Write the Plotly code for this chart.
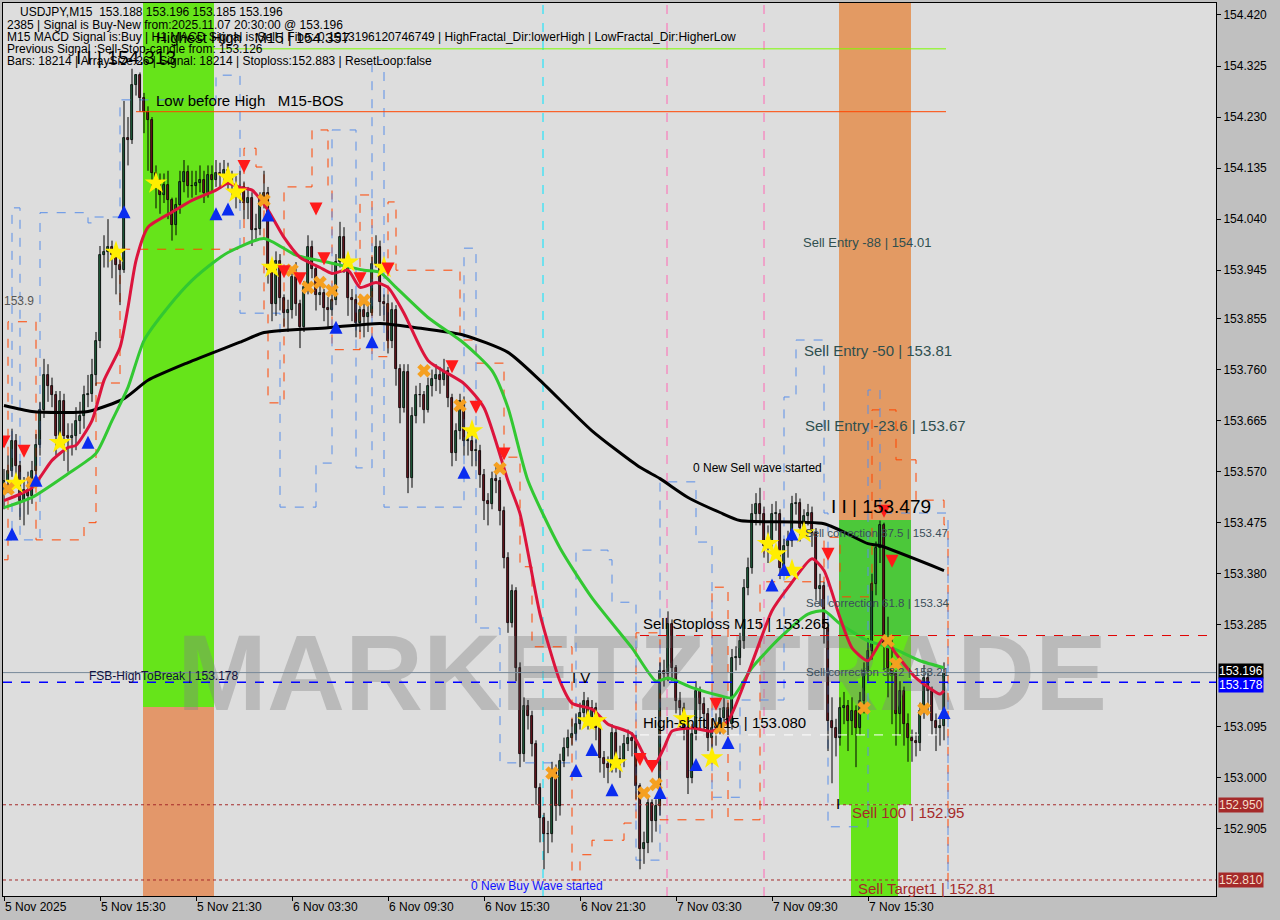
import pandas as pd
import plotly.graph_objects as go

# ---------------- data ----------------
START = pd.Timestamp("2025-11-05 09:30")
STEP = pd.Timedelta(minutes=15)

first_open = 153.540
close = [
    153.553, 153.572, 153.628, 153.581, 153.516, 153.535, 153.525, 153.572, 153.619, 153.684,
    153.749, 153.730, 153.712, 153.637, 153.702, 153.637, 153.633, 153.637, 153.665, 153.674,
    153.712, 153.715, 153.749, 153.814, 153.973, 153.978, 153.988, 153.973, 153.954, 153.945,
    154.191, 154.187, 154.290, 154.308, 154.265, 154.239, 154.224, 154.126, 154.112, 154.085,
    154.103, 154.075, 154.029, 154.066, 154.109, 154.127, 154.101, 154.101, 154.107, 154.112,
    154.088, 154.122, 154.112, 154.126, 154.122, 154.131, 154.116, 154.103, 154.094, 154.099,
    154.070, 154.079, 154.019, 154.021, 154.079, 154.088, 153.945, 153.883, 153.963, 153.893,
    153.866, 153.870, 153.932, 153.883, 153.840, 153.913, 153.988, 153.948, 153.898, 153.902,
    153.874, 153.870, 153.889, 153.960, 154.006, 153.963, 153.894, 153.889, 153.846, 153.870,
    153.857, 153.866, 153.957, 153.988, 153.885, 153.883, 153.814, 153.870, 153.762, 153.688,
    153.755, 153.559, 153.674, 153.712, 153.712, 153.684, 153.730, 153.743, 153.749, 153.740,
    153.758, 153.708, 153.605, 153.646, 153.702, 153.628, 153.628, 153.609, 153.609, 153.563,
    153.516, 153.510, 153.557, 153.553, 153.497, 153.410, 153.289, 153.348, 153.205, 153.044,
    153.134, 153.115, 153.063, 152.981, 152.925, 152.895, 152.895, 153.013, 152.948, 153.031,
    153.056, 153.074, 153.082, 153.100, 153.121, 153.143, 153.112, 153.130, 153.093, 153.037,
    153.026, 153.018, 153.084, 153.035, 153.031, 153.063, 153.074, 153.069, 152.985, 152.867,
    152.879, 152.953, 152.920, 152.948, 153.199, 153.194, 153.287, 153.205, 153.143, 153.130,
    153.093, 152.999, 153.082, 153.162, 153.138, 153.119, 153.074, 153.093, 153.100, 153.112,
    153.130, 153.100, 153.223, 153.223, 153.255, 153.354, 153.391, 153.492, 153.510, 153.492,
    153.432, 153.441, 153.492, 153.492, 153.391, 153.432, 153.441, 153.510, 153.512, 153.466,
    153.488, 153.494, 153.455, 153.352, 153.358, 153.279, 153.106, 153.093, 153.074, 153.130,
    153.134, 153.106, 153.125, 153.093, 153.143, 153.199, 153.236, 153.361, 153.427, 153.470,
    153.249, 153.205, 153.194, 153.119, 153.162, 153.100, 153.074, 153.069, 153.065, 153.125,
    153.186, 153.162, 153.106, 153.093, 153.097, 153.196,
]
high = [
    153.575, 153.600, 153.650, 153.640, 153.590, 153.560, 153.570, 153.590, 153.640, 153.700,
    153.780, 153.770, 153.745, 153.720, 153.720, 153.715, 153.660, 153.660, 153.690, 153.700,
    153.730, 153.750, 153.780, 153.830, 153.990, 154.010, 154.040, 154.000, 153.985, 153.970,
    154.260, 154.230, 154.320, 154.310, 154.313, 154.275, 154.250, 154.230, 154.140, 154.125,
    154.125, 154.130, 154.080, 154.080, 154.130, 154.150, 154.140, 154.130, 154.130, 154.140,
    154.130, 154.140, 154.140, 154.150, 154.145, 154.150, 154.145, 154.130, 154.120, 154.130,
    154.110, 154.100, 154.090, 154.050, 154.090, 154.130, 154.100, 153.960, 153.980, 153.975,
    153.900, 153.890, 153.950, 153.960, 153.890, 153.925, 154.010, 154.000, 153.955, 153.925,
    153.910, 153.895, 153.900, 153.975, 154.035, 154.025, 153.975, 153.910, 153.900, 153.880,
    153.885, 153.880, 153.970, 154.010, 154.000, 153.900, 153.900, 153.885, 153.880, 153.770,
    153.770, 153.770, 153.690, 153.730, 153.735, 153.720, 153.745, 153.760, 153.770, 153.765,
    153.780, 153.765, 153.715, 153.660, 153.715, 153.710, 153.650, 153.640, 153.630, 153.620,
    153.575, 153.530, 153.570, 153.580, 153.560, 153.505, 153.420, 153.360, 153.355, 153.215,
    153.150, 153.145, 153.125, 153.070, 152.990, 152.935, 152.920, 153.030, 153.025, 153.045,
    153.075, 153.090, 153.110, 153.120, 153.140, 153.160, 153.150, 153.145, 153.140, 153.100,
    153.050, 153.040, 153.100, 153.095, 153.060, 153.080, 153.090, 153.085, 153.080, 152.990,
    152.900, 152.965, 152.960, 152.960, 153.215, 153.220, 153.310, 153.295, 153.210, 153.160,
    153.140, 153.100, 153.100, 153.180, 153.170, 153.150, 153.130, 153.110, 153.120, 153.130,
    153.150, 153.140, 153.240, 153.245, 153.270, 153.370, 153.410, 153.510, 153.530, 153.540,
    153.505, 153.470, 153.510, 153.515, 153.500, 153.445, 153.460, 153.525, 153.530, 153.520,
    153.500, 153.510, 153.505, 153.465, 153.380, 153.365, 153.290, 153.150, 153.110, 153.150,
    153.160, 153.145, 153.150, 153.135, 153.160, 153.215, 153.260, 153.380, 153.440, 153.479,
    153.475, 153.300, 153.260, 153.200, 153.180, 153.170, 153.120, 153.090, 153.085, 153.140,
    153.210, 153.200, 153.170, 153.120, 153.110, 153.215,
]
low = [
    153.500, 153.530, 153.560, 153.560, 153.480, 153.470, 153.490, 153.510, 153.560, 153.600,
    153.670, 153.700, 153.690, 153.600, 153.620, 153.590, 153.570, 153.600, 153.610, 153.640,
    153.650, 153.690, 153.700, 153.730, 153.800, 153.950, 153.950, 153.930, 153.900, 153.880,
    153.940, 154.140, 154.180, 154.270, 154.240, 154.200, 154.130, 154.100, 154.060, 154.050,
    154.070, 154.040, 154.000, 154.010, 154.050, 154.090, 154.080, 154.080, 154.085, 154.090,
    154.070, 154.080, 154.090, 154.100, 154.100, 154.105, 154.095, 154.080, 154.060, 154.070,
    154.040, 154.040, 153.990, 154.000, 154.010, 154.060, 153.920, 153.850, 153.860, 153.870,
    153.840, 153.830, 153.855, 153.860, 153.800, 153.830, 153.900, 153.930, 153.870, 153.880,
    153.850, 153.840, 153.860, 153.880, 153.950, 153.940, 153.860, 153.850, 153.820, 153.830,
    153.820, 153.830, 153.860, 153.950, 153.860, 153.850, 153.790, 153.800, 153.730, 153.660,
    153.680, 153.530, 153.540, 153.660, 153.690, 153.660, 153.680, 153.710, 153.720, 153.715,
    153.730, 153.690, 153.580, 153.590, 153.630, 153.600, 153.600, 153.580, 153.580, 153.540,
    153.480, 153.470, 153.500, 153.530, 153.470, 153.390, 153.270, 153.280, 153.180, 153.020,
    153.030, 153.090, 153.040, 152.950, 152.880, 152.830, 152.860, 152.880, 152.920, 152.930,
    153.020, 153.040, 153.060, 153.070, 153.090, 153.110, 153.090, 153.100, 153.070, 153.010,
    153.000, 152.990, 153.010, 153.010, 153.000, 153.020, 153.050, 153.040, 152.960, 152.830,
    152.840, 152.860, 152.880, 152.900, 152.930, 153.170, 153.180, 153.180, 153.120, 153.100,
    153.070, 152.970, 152.990, 153.070, 153.110, 153.090, 153.050, 153.050, 153.060, 153.080,
    153.100, 153.080, 153.090, 153.200, 153.210, 153.240, 153.340, 153.380, 153.470, 153.470,
    153.410, 153.400, 153.430, 153.460, 153.370, 153.380, 153.410, 153.430, 153.490, 153.440,
    153.450, 153.470, 153.430, 153.330, 153.320, 153.250, 153.050, 152.990, 153.040, 153.060,
    153.100, 153.050, 153.080, 153.020, 153.080, 153.120, 153.180, 153.220, 153.340, 153.400,
    153.200, 153.150, 153.100, 153.060, 153.080, 153.060, 153.030, 153.030, 153.040, 153.050,
    153.110, 153.120, 153.080, 153.050, 153.060, 153.070,
]

# moving averages (bar index, price)
ma_black_idx = [0, 7, 21, 30, 36, 46, 59, 65, 81, 94, 103, 115, 126, 134, 147, 159, 164, 171, 179, 184, 205, 216, 219, 235]
ma_black_val = [153.693, 153.682, 153.682, 153.706, 153.740, 153.773, 153.811, 153.829, 153.838, 153.846, 153.838,
                153.824, 153.792, 153.740, 153.646, 153.578, 153.557, 153.522, 153.494, 153.479, 153.473, 153.436,
                153.432, 153.386]
ma_red_idx = [0, 7, 12, 16, 18, 22, 25, 29, 31, 33, 36, 42, 47, 53, 56, 59, 62, 66, 70, 74, 79, 82, 86, 89, 93, 96,
              100, 106, 115, 120, 126, 129, 134, 139, 142, 147, 151, 157, 162, 165, 167, 172, 177, 181, 186, 192,
              196, 202, 205, 209, 212, 216, 220, 223, 228, 234, 235]
ma_red_val = [153.516, 153.540, 153.591, 153.615, 153.619, 153.665, 153.740, 153.801, 153.876, 153.963, 154.025,
              154.053, 154.075, 154.094, 154.107, 154.099, 154.094, 154.057, 154.006, 153.969, 153.950, 153.939,
              153.945, 153.913, 153.922, 153.913, 153.865, 153.777, 153.734, 153.689, 153.553, 153.492, 153.305,
              153.180, 153.139, 153.128, 153.100, 153.082, 153.018, 153.056, 153.087, 153.093, 153.087, 153.106,
              153.194, 153.311, 153.354, 153.408, 153.386, 153.298, 153.242, 153.218, 153.261, 153.231, 153.186,
              153.156, 153.162]
ma_green_idx = [0, 7, 16, 23, 27, 31, 35, 41, 47, 53, 56, 65, 73, 82, 90, 94, 98, 106, 115, 122, 126, 131, 139, 147,
                157, 163, 166, 172, 179, 182, 187, 194, 201, 205, 209, 216, 222, 229, 235]
ma_green_val = [153.503, 153.522, 153.566, 153.604, 153.665, 153.727, 153.814, 153.876, 153.926, 153.963, 153.978,
                154.004, 153.973, 153.958, 153.945, 153.941, 153.913, 153.857, 153.809, 153.758, 153.689, 153.553,
                153.428, 153.335, 153.242, 153.180, 153.186, 153.168, 153.153, 153.149, 153.205, 153.261, 153.305,
                153.311, 153.287, 153.255, 153.242, 153.218, 153.205]

# signal markers (bar index, price)
buy_arrow_idx = [2, 8, 21, 30, 53, 56, 66, 83, 92, 115, 143, 147, 152, 164, 173, 181, 192, 195, 197, 235]
buy_arrow_val = [153.466, 153.566, 153.637, 154.066, 154.062, 154.071, 154.060, 153.851, 153.824, 153.581, 153.026,
                 153.065, 152.990, 152.985, 153.037, 153.078, 153.371, 153.400, 153.466, 153.134]
sell_arrow_idx = [0, 5, 60, 78, 70, 74, 80, 89, 96, 112, 118, 125, 159, 162, 178, 206, 220, 222]
sell_arrow_val = [153.613, 153.596, 154.126, 154.047, 153.930, 153.917, 153.954, 153.917, 153.935, 153.753, 153.678,
                  153.591, 153.022, 153.009, 153.125, 153.404, 153.484, 153.391]
star_idx = [3, 14, 28, 38, 56, 58, 67, 86, 95, 117, 146, 148, 153, 170, 177, 191, 193, 197, 200]
star_val = [153.548, 153.624, 153.978, 154.107, 154.118, 154.090, 153.950, 153.960, 153.950, 153.646, 153.106,
            153.106, 153.028, 153.110, 153.037, 153.436, 153.417, 153.386, 153.456]
cross_idx = [1, 7, 65, 72, 76, 79, 82, 90, 105, 114, 124, 137, 160, 163, 179, 215, 221, 223, 230]
cross_val = [153.538, 153.550, 154.075, 153.945, 153.913, 153.922, 153.907, 153.889, 153.758, 153.693, 153.576,
             153.009, 152.972, 152.988, 153.093, 153.130, 153.255, 153.212, 153.128]

# dashed step channels (bar index, price)
orange_step_idx = [0, 1, 8, 20, 23, 29, 60, 63, 65, 66, 70, 77, 81, 82, 89, 92, 96, 98, 114, 118, 125, 129, 132,
                   142, 144, 147, 155, 158, 164, 177, 181, 189, 205, 209, 217, 223, 228, 235, 236]
orange_step_val = [153.406, 153.849, 153.443, 153.475, 153.735, 153.984, 154.172, 154.137, 153.865, 153.698, 154.100,
                   154.206, 154.100, 153.797, 154.085, 153.784, 154.072, 153.945, 153.815, 153.772, 153.597, 153.393,
                   153.244, 152.810, 152.857, 152.884, 152.916, 153.270, 152.922, 153.355, 152.922, 153.365, 153.448,
                   153.337, 153.685, 153.592, 153.517, 153.471, 152.791]
blue_step_idx = [0, 2, 4, 9, 21, 22, 29, 53, 59, 69, 78, 82, 88, 92, 95, 115, 118, 124, 143, 151, 152, 158, 164, 173,
                 177, 184, 195, 198, 205, 206, 216, 219, 236]
blue_step_val = [153.443, 154.061, 153.443, 154.052, 154.033, 154.044, 154.262, 154.308, 153.865, 153.504, 153.586,
                 154.206, 153.577, 154.336, 153.504, 153.986, 153.279, 153.028, 153.424, 153.406, 153.327, 152.847,
                 153.551, 153.439, 152.964, 153.145, 153.709, 153.815, 153.493, 152.909, 153.722, 153.493, 152.791]

# x-axis time labels
tick_idx = [0, 24, 48, 72, 96, 120, 144, 168, 192, 216]
tick_text = ["5 Nov 2025", "5 Nov 15:30", "5 Nov 21:30", "6 Nov 03:30", "6 Nov 09:30", "6 Nov 15:30",
             "6 Nov 21:30", "7 Nov 03:30", "7 Nov 09:30", "7 Nov 15:30"]
ytick_vals = [154.420, 154.325, 154.230, 154.135, 154.040, 153.945, 153.855, 153.760, 153.665, 153.570,
              153.475, 153.380, 153.285, 153.095, 153.000, 152.905]

# ---------------- build ----------------
def T(i):
    return START + STEP * i

YMIN, YMAX = 152.7802, 154.4423
XMIN, XMAX = T(-0.25), T(303)

n = len(close)
times = [T(i) for i in range(n)]
opens = [first_open] + close[:-1]

fig = go.Figure()

# watermark text (behind everything)
fig.add_trace(go.Scatter(x=[T(159.5)], y=[153.177], mode="text", text=["MARKETZITRADE"],
                         textfont=dict(size=108, color="rgba(130,130,130,0.38)", weight="bold",
                                       family="Liberation Sans, Arial, sans-serif"),
                         hoverinfo="skip"))

# step channels
fig.add_trace(go.Scatter(x=[T(i) for i in orange_step_idx], y=orange_step_val, mode="lines",
                         line=dict(color="#ff4500", width=1, dash="dash", shape="hv"), hoverinfo="skip"))
fig.add_trace(go.Scatter(x=[T(i) for i in blue_step_idx], y=blue_step_val, mode="lines",
                         line=dict(color="#5a8fe8", width=1, dash="dash", shape="hv"), hoverinfo="skip"))

# wicks
wx, wy = [], []
for t, h, l in zip(times, high, low):
    wx += [t, t, None]
    wy += [l, h, None]
fig.add_trace(go.Scatter(x=wx, y=wy, mode="lines", line=dict(color="black", width=1), hoverinfo="skip"))

# bodies
base = [min(o, c) for o, c in zip(opens, close)]
hgt = [max(abs(c - o), 0.0012) for o, c in zip(opens, close)]
cols = ["#3cb371" if c >= o else "#c8283c" for o, c in zip(opens, close)]
fig.add_trace(go.Bar(x=times, y=hgt, base=base, width=0.72 * 900000,
                     marker=dict(color=cols, line=dict(color="black", width=0.8)), hoverinfo="skip"))

# moving averages
fig.add_trace(go.Scatter(x=[T(i) for i in ma_black_idx], y=ma_black_val, mode="lines",
                         line=dict(color="black", width=3, shape="spline", smoothing=0.6), hoverinfo="skip"))
fig.add_trace(go.Scatter(x=[T(i) for i in ma_green_idx], y=ma_green_val, mode="lines",
                         line=dict(color="#32c832", width=3, shape="spline", smoothing=0.6), hoverinfo="skip"))
fig.add_trace(go.Scatter(x=[T(i) for i in ma_red_idx], y=ma_red_val, mode="lines",
                         line=dict(color="#dc143c", width=3, shape="spline", smoothing=0.6), hoverinfo="skip"))

# markers
fig.add_trace(go.Scatter(x=[T(i) for i in star_idx], y=star_val, mode="markers",
                         marker=dict(symbol="star", size=17, color="#ffee00", line=dict(width=0)), hoverinfo="skip"))
fig.add_trace(go.Scatter(x=[T(i) for i in cross_idx], y=cross_val, mode="markers",
                         marker=dict(symbol="x", size=12, color="#f5a020", line=dict(width=0)), hoverinfo="skip"))
fig.add_trace(go.Scatter(x=[T(i) for i in buy_arrow_idx], y=buy_arrow_val, mode="markers",
                         marker=dict(symbol="arrow-up", size=13, color="#0a2cf0", line=dict(width=0)), hoverinfo="skip"))
fig.add_trace(go.Scatter(x=[T(i) for i in sell_arrow_idx], y=sell_arrow_val, mode="markers",
                         marker=dict(symbol="arrow-down", size=13, color="#ff1a1a", line=dict(width=0)), hoverinfo="skip"))

# ---------------- shapes ----------------
shapes = []
bands = [
    (34.75, 52.5, YMAX, 153.132, "#66e41a"),
    (34.75, 52.5, 153.132, YMIN, "#e3976a"),
    (208.75, 226.75, YMAX, 153.480, "#e39a63"),
    (208.75, 226.75, 153.480, 153.265, "#4cc83a"),
    (208.75, 226.75, 153.265, 152.950, "#66e41a"),
    (211.75, 223.5, 152.950, YMIN, "#66e41a"),
]
for a, b, y0, y1, c in bands:
    shapes.append(dict(type="rect", xref="x", yref="y", x0=T(a), x1=T(b), y0=y0, y1=y1,
                       fillcolor=c, line=dict(width=0), layer="below"))

vlines = [(134.75, "#00e5ff"), (165.75, "#ff69b4"), (190.0, "#ff69b4")]
for i, c in vlines:
    shapes.append(dict(type="line", xref="x", yref="paper", x0=T(i), x1=T(i), y0=0, y1=1,
                       line=dict(color=c, width=1, dash="dash"), layer="below"))

hlines = [
    (154.357, 37.75, 235.5, "#7cfc00", "solid", 1),
    (154.240, 33.0, 235.5, "#ff4500", "solid", 1),
    (153.265, 159.0, 303, "#e00000", "dash", 1),
    (153.196, -0.25, 303, "#778899", "solid", 1),
    (153.178, -0.25, 303, "#0000ff", "dash", 1.5),
    (153.080, 159.0, 234.0, "#ffffff", "dash", 1),
    (152.950, -0.25, 303, "#a52a2a", "dot", 1),
    (152.810, -0.25, 303, "#a52a2a", "dot", 1),
]
for yv, a, b, c, d, w in hlines:
    shapes.append(dict(type="line", xref="x", yref="y", x0=T(a), x1=T(b), y0=yv, y1=yv,
                       line=dict(color=c, width=w, dash=d)))

# ---------------- annotations ----------------
FONT = "Liberation Sans, Arial, sans-serif"
ann = []
labels = [
    ("Highest High   M15 | 154.357", 37.75, 154.379, 15, "black"),
    ("I I | 154.313", 17.75, 154.340, 19, "black"),
    ("Low before High   M15-BOS", 37.75, 154.260, 15, "black"),
    ("153.9", -0.25, 153.888, 12, "#555555"),
    ("Sell Entry -88 | 154.01", 199.5, 153.996, 13, "#2f4f4f"),
    ("Sell Entry -50 | 153.81", 199.75, 153.795, 15, "#2f4f4f"),
    ("Sell Entry -23.6 | 153.67", 200.0, 153.655, 15, "#2f4f4f"),
    ("0 New Sell wave started", 172.0, 153.577, 12, "black"),
    ("I I | 153.479", 206.5, 153.506, 19, "black"),
    ("Sell correction 87.5 | 153.47", 200.0, 153.456, 11.5, "#3a4e5a"),
    ("Sell correction 61.8 | 153.34", 200.25, 153.326, 11.5, "#3a4e5a"),
    ("Sell correction 38.2 | 153.21", 200.25, 153.197, 11.5, "#3a4e5a"),
    ("Sell Stoploss M15 | 153.265", 159.5, 153.288, 15, "black"),
    ("High-shift M15 | 153.080", 159.5, 153.104, 15, "black"),
    ("I V", 141.75, 153.186, 15, "black"),
    ("FSB-HighToBreak | 153.178", 21.0, 153.190, 12, "#101040"),
    ("Sell 100 | 152.95", 211.75, 152.935, 15, "#a52a2a"),
    ("Sell Target1 | 152.81", 213.25, 152.795, 15, "#a52a2a"),
    ("0 New Buy Wave started", 116.5, 152.799, 12, "#1010ff"),
    ("I", 207.75, 152.953, 15, "black"),
]
for txt, i, yv, s, c in labels:
    ann.append(dict(x=T(i), y=yv, xref="x", yref="y", text=txt, showarrow=False, xanchor="left",
                    yanchor="middle", font=dict(size=s, color=c, family=FONT), borderpad=0))

def px(x):
    return (x - 3) / 1213.0

def py(y):
    return 1 - (y - 3) / 893.0

header = [
    ("USDJPY,M15  153.188 153.196 153.185 153.196", 18, 12),
    ("2385 | Signal is Buy-New from:2025.11.07 20:30:00 @ 153.196", 5, 25),
    ("M15 MACD Signal is:Buy | H1 MACD Signal is:Sell | Fibo:-0.1913196120746749 | HighFractal_Dir:lowerHigh | LowFractal_Dir:HigherLow", 5, 37),
    ("Previous Signal :Sell-Stop-candle from: 153.126", 5, 49),
    ("Bars: 18214 | ArraySize:26 | Signal: 18214 | Stoploss:152.883 | ResetLoop:false", 5, 61),
]
for txt, x, y in header:
    ann.append(dict(x=px(x), y=py(y), xref="paper", yref="paper", text=txt, showarrow=False,
                    xanchor="left", yanchor="middle", font=dict(size=12, color="black", family=FONT)))

boxes = [
    (153.196, "#000000", "#ffffff", 2),
    (153.178, "#0000ff", "#ffffff", -3),
    (152.950, "#a52a2a", "#f5dcc8", 0),
    (152.810, "#a52a2a", "#f5dcc8", 0),
]
for yv, bg, fc, ys in boxes:
    ann.append(dict(x=1, y=yv, xref="paper", yref="y", text=f"{yv:.3f}", showarrow=False,
                    xanchor="left", yanchor="middle", xshift=2, yshift=ys, bgcolor=bg, borderpad=0,
                    font=dict(size=12, color=fc, family=FONT)))

fig.update_layout(
    width=1280, height=920,
    margin=dict(l=3, r=64, t=3, b=24),
    paper_bgcolor="#c0c0c0",
    plot_bgcolor="#dddddd",
    showlegend=False,
    bargap=0,
    shapes=shapes,
    annotations=ann,
    hovermode=False,
    xaxis=dict(type="date", range=[XMIN, XMAX], showgrid=False, zeroline=False,
               tickvals=[T(i) for i in tick_idx], ticktext=tick_text, ticks="outside", ticklen=4,
               tickcolor="black", ticklabelposition="outside right",
               tickfont=dict(size=12, color="black", family=FONT),
               showline=True, linecolor="black", linewidth=1, mirror=True, rangeslider=dict(visible=False)),
    yaxis=dict(range=[YMIN, YMAX], side="right", showgrid=False, zeroline=False,
               tickvals=ytick_vals, ticktext=[f"{v:.3f}" for v in ytick_vals], ticks="outside",
               ticklen=4, tickcolor="black", tickfont=dict(size=12, color="black", family=FONT),
               showline=True, linecolor="black", linewidth=1, mirror=True),
)

fig.write_html("out.html", config={"displayModeBar": False},
               post_script="document.body.style.margin='0px';")
